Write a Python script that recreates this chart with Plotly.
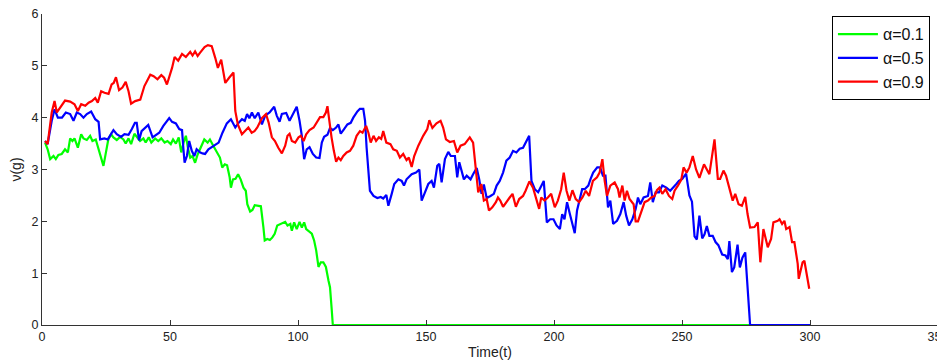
import plotly.graph_objects as go

# ---- data ----
t_green = [1.2, 2.2, 3.2, 4.5, 5.4, 6.4, 7.7, 9, 10.1, 11, 11.9, 12.7, 14, 15.3, 16.2, 17.5, 18.8, 19.7, 21, 22,
           23.1, 24, 24.6, 25.9, 27, 27.9, 29.2, 30.5, 31.8, 32.7, 33.8, 34.8, 36.1, 37.4, 38.3, 39.6, 40.5, 41.7,
           42.7, 44.2, 45.4, 46.6, 47.9, 49, 50.3, 51.2, 52.3, 53.4, 54.4, 55.3, 56.2, 57, 57.9, 58.8, 59.8, 60.8,
           62.1, 63.4, 64.7, 65.6, 66.9, 68.2, 69.5, 70.4, 71.4, 72.3, 73.3, 73.8, 74.6, 75.6, 76.6, 77.6, 78.7,
           79.6, 80.2, 81.3, 82.2, 83.1, 84.4, 85.5, 86.5, 87, 88, 89, 90, 90.9, 91.9, 93.2, 94.2, 95, 95.9, 97,
           97.6, 98.5, 99.5, 100.6, 101.5, 102.4, 103.2, 104.1, 105.4, 106.3, 107.1, 108, 108.9, 109.9, 110.9,
           111.9, 112.5, 113.2, 113.6, 300]
v_green = [3.52, 3.39, 3.20, 3.26, 3.20, 3.28, 3.30, 3.39, 3.33, 3.60, 3.55, 3.60, 3.42, 3.68, 3.60, 3.57, 3.65,
           3.55, 3.58, 3.42, 3.24, 3.07, 3.23, 3.58, 3.68, 3.62, 3.57, 3.63, 3.58, 3.50, 3.60, 3.49, 3.69, 3.62,
           3.55, 3.60, 3.52, 3.62, 3.52, 3.60, 3.55, 3.60, 3.52, 3.55, 3.49, 3.58, 3.50, 3.62, 3.33, 3.52, 3.65,
           3.42, 3.23, 3.26, 3.13, 3.29, 3.42, 3.58, 3.52, 3.58, 3.46, 3.33, 3.23, 3.04, 3.10, 3.08, 2.85, 2.65,
           2.81, 2.82, 2.91, 2.81, 2.65, 2.59, 2.33, 2.19, 2.22, 2.31, 2.30, 2.29, 1.88, 1.63, 1.66, 1.64, 1.69,
           1.76, 1.92, 1.95, 1.96, 1.99, 1.92, 1.95, 1.82, 1.98, 1.85, 1.99, 1.88, 1.98, 1.85, 1.82, 1.76, 1.63,
           1.44, 1.12, 1.21, 1.21, 1.12, 0.86, 0.73, 0.28, 0.0, 0.0]

t_blue = [1.2, 2.2, 3.8, 4.9, 6.2, 7.8, 9.3, 11, 12.3, 13.6, 14.9, 16.2, 17.5, 19.2, 20.8, 22.1, 22.7, 24.4, 25.7,
          27, 27.9, 29.2, 30.9, 32.2, 33.8, 35.1, 36.3, 37, 37.9, 38.9, 40.2, 41.5, 43.2, 44.2, 45.8, 47.4, 49.7,
          50.8, 52.3, 53.6, 54.7, 55.2, 55.7, 56.6, 57.5, 58.5, 59.5, 60.4, 61.7, 62.7, 63.7, 65, 67, 69, 70.5,
          72.2, 73.8, 75.5, 76.8, 78.1, 79.2, 80.1, 81, 82, 83.1, 84.5, 85.9, 87.2, 88.9, 90.7, 91.7, 92.8, 93.7,
          95.4, 96.7, 98, 99.5, 100.6, 101.5, 102.4, 103.4, 104.5, 105.8, 107.1, 108.4, 109.3, 110.2, 111.5,
          112.5, 113.6, 114.9, 115.8, 116.7, 118, 119.3, 120.6, 121.6, 123.2, 124.2, 125.5, 126.2, 126.8, 128.1,
          129.5, 131, 132.3, 133.3, 134.5, 135.3, 136.6, 137.6, 139.2, 140.5, 141.4, 142.4, 144.4, 146.1, 147.4,
          148.3, 149.6, 150.9, 152.2, 153.1, 154.4, 155.2, 156.1, 157.4, 158.7, 159.7, 161.3, 162.2, 163, 163.9,
          164.8, 165.9, 167.4, 168.4, 169.8, 170.8, 171.7, 172.6, 173.7, 175.2, 176.5, 177.6, 178.8, 180.1,
          181.4, 182.7, 184, 185.3, 186.6, 187.9, 189, 190.3, 191.2, 192.5, 193.8, 195.1, 196, 197.2, 198.5,
          199.8, 201, 202.3, 203.2, 204.1, 205.1, 206.2, 207.1, 208.1, 209, 210, 211, 212, 213.4, 214.3, 215.3,
          216.9, 218, 219.1, 220.1, 221.1, 222, 223.1, 224.6, 225.9, 227.2, 228.2, 229.3, 230.6, 231.9, 232.8,
          233.7, 235, 236.7, 237.6, 238.6, 239.7, 241, 242.3, 243.9, 245.4, 246.7, 247.8, 248.8, 250.1, 251.6,
          252.9, 253.9, 254.9, 255.8, 256.8, 257.9, 258.8, 259.7, 260.7, 262, 263.1, 264.2, 265.7, 267, 267.9,
          268.5, 269.5, 270.4, 271.7, 272.6, 273.6, 274.7, 275.6, 276.6, 300]
v_blue = [3.55, 3.49, 3.94, 4.16, 4.00, 4.00, 4.10, 4.07, 3.94, 4.10, 4.07, 4.00, 4.07, 4.12, 3.97, 3.92, 3.58,
          3.60, 3.58, 3.68, 3.76, 3.68, 3.63, 3.68, 3.67, 3.78, 3.90, 3.90, 3.56, 3.74, 3.81, 3.86, 3.62, 3.65,
          3.71, 3.84, 3.99, 3.92, 3.89, 3.78, 3.76, 3.42, 3.13, 3.26, 3.55, 3.36, 3.26, 3.39, 3.33, 3.31, 3.30,
          3.39, 3.46, 3.52, 3.71, 3.89, 3.97, 3.81, 3.90, 3.97, 3.94, 4.07, 3.99, 4.10, 3.99, 4.10, 3.87, 4.04,
          4.10, 4.21, 4.04, 3.92, 4.07, 4.09, 3.94, 4.06, 4.21, 3.94, 3.65, 3.20, 3.39, 3.43, 3.30, 3.23, 3.22,
          3.52, 3.63, 3.67, 3.80, 3.76, 3.81, 3.87, 3.69, 3.78, 3.87, 3.90, 4.00, 4.12, 4.17, 4.17, 3.94, 3.42,
          2.59, 2.49, 2.45, 2.47, 2.44, 2.51, 2.30, 2.53, 2.72, 2.81, 2.78, 2.69, 2.81, 2.91, 2.94, 3.00, 2.40,
          2.56, 2.72, 2.78, 2.65, 3.07, 3.11, 2.75, 3.20, 3.34, 3.26, 3.26, 2.85, 3.14, 2.98, 2.81, 2.88, 2.81,
          2.91, 3.03, 2.81, 2.53, 2.71, 2.45, 2.49, 2.53, 2.69, 2.78, 2.94, 3.17, 3.23, 3.36, 3.33, 3.40, 3.42,
          3.52, 3.65, 2.78, 2.62, 2.56, 2.69, 2.78, 1.98, 2.04, 2.04, 1.92, 1.85, 2.14, 2.04, 2.37, 2.14, 1.95,
          1.77, 2.21, 2.40, 2.62, 2.62, 2.69, 2.82, 2.94, 3.04, 3.04, 2.88, 2.88, 2.27, 2.40, 1.95, 2.01, 2.14,
          2.37, 2.11, 1.92, 2.04, 2.24, 2.46, 2.33, 2.46, 2.49, 2.75, 2.37, 2.56, 2.56, 2.69, 2.65, 2.59, 2.65,
          2.72, 2.78, 2.82, 2.92, 2.50, 2.38, 1.71, 1.65, 2.11, 1.67, 1.75, 1.91, 1.72, 1.72, 1.60, 1.54, 1.36,
          1.34, 1.27, 1.62, 1.02, 1.11, 1.55, 1.11, 1.30, 1.40, 0.73, 0.0, 0.0]

t_red = [1.2, 2.2, 3.8, 4.9, 5.8, 7.1, 9, 11, 12.7, 14, 15.3, 16.9, 18.2, 19.5, 20.8, 21.8, 23.1, 24.4, 26, 27.2,
         28, 28.9, 30.1, 31.4, 32.7, 33.8, 34.8, 36.4, 38.4, 40, 41.5, 42.3, 43.6, 45.1, 46.6, 47.7, 48.8, 50.8,
         51.8, 53.2, 54.7, 56.2, 57.9, 58.8, 59.8, 60.8, 61.7, 63.5, 64.8, 66.3, 67.7, 68.7, 70, 71.6, 73.1, 74.8,
         75.5, 76.5, 78.1, 79.3, 80.6, 81.9, 83, 84.1, 85.9, 87.5, 88.5, 89.8, 91, 92.3, 93.7, 95, 95.9, 96.7,
         97.6, 98.9, 100.2, 101.1, 102.2, 103.2, 104.5, 106.1, 107.4, 108.6, 109.9, 110.9, 111.5, 112.2, 113.1,
         114, 114.9, 115.8, 116.7, 117.7, 119, 120.3, 121.6, 122.9, 124.2, 125.2, 126.6, 127.5, 128.4, 129.5,
         130.5, 131.6, 132.5, 133.3, 134.5, 136.1, 137.2, 138.6, 139.8, 141.1, 142.4, 143.3, 144.4, 145.4, 147,
         148.9, 150.5, 151.3, 152.5, 154.1, 155.7, 156.7, 157.8, 159.3, 160.9, 162.2, 163.5, 165.1, 167.1, 168.4,
         169.5, 170.4, 171.6, 172.6, 173.7, 174.6, 175.9, 177.3, 178.1, 179, 180.1, 181.4, 182.7, 183.8, 185.1,
         186.4, 187.9, 188.9, 190.4, 191.8, 193.1, 194.2, 195, 196.3, 197.6, 198.9, 200.3, 201.5, 202.8, 203.8,
         204.9, 206, 207.2, 208.5, 209.8, 211.1, 212.4, 213.7, 215.2, 216.8, 217.8, 218.9, 219.8, 220.7, 222,
         223.7, 225, 225.6, 226.7, 227.6, 228.5, 229.5, 231.1, 231.9, 232.8, 234.1, 235.4, 236.7, 238, 239.3,
         240.2, 241.2, 242.3, 243.6, 244.9, 246.2, 247.1, 248.4, 249.7, 250.6, 251.8, 252.9, 254.2, 255.5, 256.8,
         258.6, 260.7, 262.7, 264, 264.9, 266.2, 267.2, 268.5, 269.8, 270.8, 272.1, 273.4, 274.7, 275.6, 276.6,
         278.3, 279.6, 280.6, 281.8, 283.5, 284.8, 285.7, 287.4, 288.1, 289.1, 290, 290.7, 292, 293, 293.9,
         295.2, 295.6, 297.1, 297.8, 299.7]
v_red = [3.55, 3.49, 4.10, 4.32, 4.10, 4.19, 4.33, 4.31, 4.26, 4.13, 4.26, 4.23, 4.29, 4.32, 4.38, 4.29, 4.51,
         4.48, 4.46, 4.64, 4.67, 4.78, 4.53, 4.58, 4.69, 4.51, 4.27, 4.32, 4.35, 4.61, 4.77, 4.83, 4.80, 4.74,
         4.82, 4.77, 4.64, 4.96, 5.17, 5.10, 5.23, 5.17, 5.27, 5.20, 5.28, 5.19, 5.25, 5.36, 5.40, 5.38, 5.15,
         4.96, 5.12, 4.67, 4.77, 4.87, 4.13, 3.87, 3.68, 3.74, 3.81, 3.71, 3.74, 3.81, 3.99, 4.07, 3.91, 3.62,
         3.55, 3.42, 3.31, 3.46, 3.65, 3.69, 3.55, 3.52, 3.62, 3.65, 3.55, 3.68, 3.76, 3.81, 3.91, 4.01, 4.01,
         4.10, 4.22, 3.94, 3.62, 3.36, 3.15, 3.23, 3.18, 3.26, 3.33, 3.36, 3.46, 3.65, 3.74, 3.71, 3.84, 3.71,
         3.52, 3.65, 3.55, 3.62, 3.59, 3.74, 3.52, 3.49, 3.39, 3.36, 3.23, 3.30, 3.18, 3.23, 3.05, 3.26, 3.46,
         3.65, 3.78, 3.95, 3.80, 3.89, 3.94, 3.81, 3.58, 3.53, 3.55, 3.33, 3.46, 3.49, 3.62, 3.52, 3.04, 2.56,
         2.72, 2.40, 2.43, 2.21, 2.27, 2.37, 2.46, 2.40, 2.28, 2.38, 2.46, 2.53, 2.28, 2.43, 2.49, 2.59, 2.77,
         2.65, 2.45, 2.24, 2.46, 2.40, 2.46, 2.53, 2.27, 2.40, 2.62, 2.94, 2.59, 2.40, 2.60, 2.43, 2.37, 2.46,
         2.59, 2.49, 2.78, 2.85, 2.94, 3.20, 2.78, 2.49, 2.69, 2.75, 2.62, 2.46, 2.69, 2.40, 2.59, 2.43, 2.33,
         2.00, 2.00, 2.21, 2.37, 2.40, 2.46, 2.49, 2.60, 2.65, 2.53, 2.62, 2.49, 2.43, 2.59, 2.69, 2.80, 3.04,
         2.94, 3.04, 3.26, 3.00, 2.84, 3.10, 2.91, 3.58, 2.82, 2.82, 2.98, 2.88, 2.65, 2.40, 2.53, 2.33, 2.30,
         2.47, 2.14, 1.88, 1.89, 1.98, 1.21, 1.85, 1.50, 1.66, 1.98, 2.01, 2.04, 1.95, 2.01, 1.85, 1.89, 1.60,
         1.60, 1.18, 0.89, 1.21, 1.24, 0.70]

series_names = ["α=0.1", "α=0.5", "α=0.9"]
series_colors = ["#00ff00", "#0000ff", "#ff0000"]
x_ticks = [0, 50, 100, 150, 200, 250, 300, 350]
y_ticks = [0, 1, 2, 3, 4, 5, 6]

fig = go.Figure()
for name, color, tx, vy in zip(series_names, series_colors,
                               [t_green, t_blue, t_red], [v_green, v_blue, v_red]):
    fig.add_trace(go.Scatter(x=tx, y=vy, mode="lines", name=name,
                             line=dict(color=color, width=2.2)))

# the page body adds an 8px offset, so the margins are shifted to compensate
font_family = "Liberation Sans, Arial, sans-serif"
narrow_family = "Liberation Sans Narrow, Arial Narrow, Liberation Sans, sans-serif"
fig.update_layout(
    width=945, height=352,
    margin=dict(l=33.7, r=15, t=6.0, b=35.3, autoexpand=False),
    paper_bgcolor="white", plot_bgcolor="white",
    font=dict(family=font_family, size=12, color="#222222"),
    showlegend=True,
    legend=dict(x=0.991, y=0.993, xanchor="right", yanchor="top",
                bgcolor="white", bordercolor="#000000", borderwidth=1,
                font=dict(size=16, color="#111111"),
                tracegroupgap=0, itemwidth=40),
    xaxis=dict(range=[0, 350], tickvals=x_ticks, ticks="inside", ticklen=5,
               tickcolor="#333333", showline=True, linecolor="#333333", linewidth=1,
               showgrid=False, zeroline=False, mirror=False, automargin=False,
               ticklabeloverflow="allow",
               title=dict(text="Time(t)", font=dict(size=14, family=narrow_family)),
               tickfont=dict(size=12.5, family=narrow_family)),
    yaxis=dict(range=[0, 6], tickvals=y_ticks, ticks="inside", ticklen=5,
               tickcolor="#333333", showline=True, linecolor="#333333", linewidth=1,
               showgrid=False, zeroline=False, mirror=False, automargin=False,
               ticklabeloverflow="allow",
               title=dict(text="ν(g)", font=dict(size=14, family=narrow_family)),
               tickfont=dict(size=12.5, family=narrow_family)),
)

fig.write_html("out.html")
